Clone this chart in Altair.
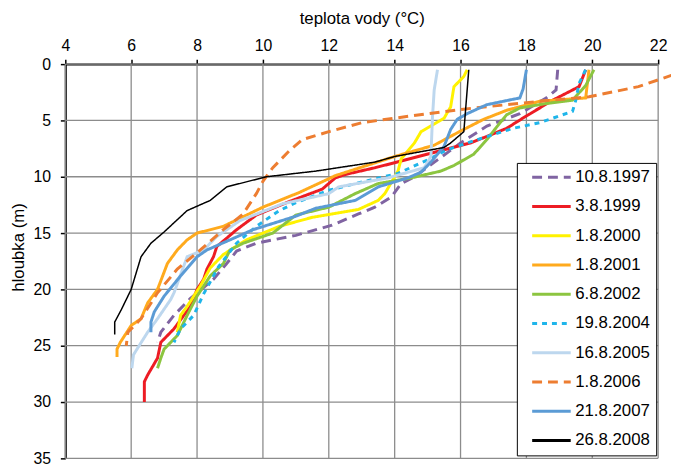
import altair as alt
import pandas as pd

series_names = ["10.8.1997", "3.8.1999", "1.8.2000", "1.8.2001", "6.8.2002",
                "19.8.2004", "16.8.2005", "1.8.2006", "21.8.2007", "26.8.2008"]
colors = ["#8064A2", "#ED1C24", "#FFF200", "#FFAA1D", "#8CC540",
          "#1FB5EA", "#BDD7EE", "#ED7D31", "#5B9BD5", "#000000"]
dashes = [[10, 6], [1, 0], [1, 0], [1, 0], [1, 0],
          [5, 5], [1, 0], [10, 6], [1, 0], [1, 0]]

x_ticks = [4, 6, 8, 10, 12, 14, 16, 18, 20, 22]
y_ticks = [0, 5, 10, 15, 20, 25, 30, 35]

depth_1997 = [0.5, 2.3, 3.0, 4.4, 5.5, 7.0, 8.5, 10.0, 10.6, 11.8, 12.7, 13.3, 14.3, 15.2, 15.9, 16.6, 17.7, 19.1, 20.8, 22.3, 23.8, 24.7]
temp_1997 = [18.95, 18.9, 18.6, 17.8, 16.8, 16.0, 15.3, 14.6, 14.2, 13.9, 13.4, 12.9, 12.1, 11.0, 9.8, 9.2, 8.9, 8.5, 7.8, 7.3, 6.9, 6.8]

depth_1999 = [0.5, 2.0, 3.2, 4.6, 5.7, 6.3, 7.0, 7.6, 8.6, 9.2, 9.8, 10.1, 11.1, 12.2, 13.4, 14.7, 16.2, 17.1, 18.2, 19.1, 20.0, 21.5, 23.5, 24.7, 26.1, 27.6, 28.2, 30.0]
temp_1999 = [19.8, 19.6, 18.8, 18.0, 17.4, 16.9, 16.3, 15.5, 14.2, 13.4, 12.5, 12.2, 11.8, 10.8, 9.8, 9.2, 8.6, 8.5, 8.3, 8.2, 8.0, 7.8, 7.3, 6.9, 6.8, 6.5, 6.4, 6.4]

depth_2000 = [0.5, 1.1, 2.0, 3.8, 4.8, 6.0, 7.0, 8.4, 9.5, 10.5, 11.5, 12.1, 12.9, 13.6, 14.4, 15.6, 16.9, 18.1, 19.7, 21.5, 22.3, 23.8]
temp_2000 = [16.2, 16.1, 15.8, 15.7, 15.5, 14.8, 14.6, 14.2, 14.1, 13.9, 13.7, 13.5, 12.9, 11.5, 10.5, 9.5, 8.8, 8.4, 8.1, 7.7, 7.5, 7.4]

depth_2001 = [0.5, 3.0, 3.3, 4.1, 4.9, 6.1, 7.2, 8.2, 9.9, 11.4, 12.7, 14.4, 15.0, 15.6, 16.5, 17.7, 20.0, 21.2, 22.6, 23.2, 24.7, 25.3, 26.0]
temp_2001 = [19.9, 19.8, 18.4, 17.4, 16.7, 15.9, 15.2, 14.0, 12.2, 11.1, 10.0, 8.8, 8.0, 7.7, 7.4, 7.1, 6.8, 6.5, 6.3, 6.0, 5.67, 5.57, 5.57]

depth_2002 = [0.5, 1.9, 3.2, 3.5, 3.9, 4.5, 5.2, 6.7, 8.0, 9.0, 9.5, 10.1, 10.6, 11.5, 12.7, 13.4, 15.0, 15.9, 16.5, 17.7, 18.8, 20.6, 22.3, 24.1, 25.3, 26.1, 27.0]
temp_2002 = [20.05, 19.8, 19.4, 18.6, 17.8, 17.4, 17.2, 16.8, 16.4, 15.8, 15.4, 14.5, 13.5, 12.8, 12.0, 11.0, 10.3, 9.4, 9.0, 8.8, 8.4, 8.0, 7.7, 7.4, 7.0, 6.9, 6.8]

depth_2004 = [0.5, 1.7, 3.2, 4.2, 5.2, 5.7, 6.8, 7.6, 8.5, 9.7, 10.4, 11.2, 12.3, 13.0, 14.4, 15.9, 18.0, 20.4, 22.3, 23.5, 24.7]
temp_2004 = [19.8, 19.6, 19.5, 19.4, 18.4, 17.6, 16.4, 15.6, 15.0, 14.1, 13.1, 12.0, 11.0, 10.5, 9.8, 9.2, 8.65, 8.2, 7.9, 7.5, 7.3]

depth_2005 = [0.5, 2.3, 4.6, 8.2, 9.2, 10.1, 10.9, 11.5, 12.4, 13.9, 14.7, 15.3, 16.5, 17.1, 20.3, 20.9, 22.6, 23.8, 25.8, 27.0]
temp_2005 = [15.3, 15.2, 15.15, 15.1, 14.9, 13.8, 12.3, 12.0, 10.6, 9.3, 8.9, 8.6, 8.2, 7.7, 7.3, 7.2, 6.8, 6.5, 6.07, 6.02]

depth_2006 = [0.5, 1.0, 2.0, 2.9, 3.3, 3.9, 4.4, 4.8, 5.2, 6.0, 6.7, 7.7, 9.2, 10.4, 11.5, 13.3, 14.7, 16.5, 18.2, 20.3, 22.6, 23.8, 25.0]
temp_2006 = [22.9, 22.4, 21.4, 19.9, 18.4, 16.4, 15.0, 14.0, 13.0, 12.0, 11.2, 10.8, 10.3, 10.0, 9.8, 9.4, 8.8, 8.1, 7.4, 6.8, 6.3, 5.9, 5.85]

depth_2007 = [0.5, 2.2, 3.0, 3.6, 4.4, 4.9, 5.8, 7.3, 8.7, 9.6, 10.1, 10.9, 12.1, 12.8, 13.5, 14.7, 15.6, 16.5, 17.1, 18.8, 20.6, 22.0, 22.9, 23.8]
temp_2007 = [18.0, 17.9, 17.8, 16.8, 16.2, 15.9, 15.7, 15.5, 15.1, 14.8, 14.4, 13.5, 12.8, 11.6, 11.0, 9.7, 9.0, 8.3, 8.0, 7.5, 7.0, 6.7, 6.6, 6.6]

depth_2008 = [0.5, 6.0, 7.0, 7.4, 8.2, 8.7, 9.5, 10.0, 10.9, 12.1, 13.0, 14.9, 15.9, 17.1, 20.0, 21.8, 22.9, 24.0]
temp_2008 = [16.25, 16.1, 15.7, 15.5, 14.0, 13.4, 11.6, 10.1, 8.9, 8.4, 7.7, 7.0, 6.6, 6.3, 6.0, 5.7, 5.5, 5.5]

profiles = [
    (depth_1997, temp_1997), (depth_1999, temp_1999), (depth_2000, temp_2000),
    (depth_2001, temp_2001), (depth_2002, temp_2002), (depth_2004, temp_2004),
    (depth_2005, temp_2005), (depth_2006, temp_2006), (depth_2007, temp_2007),
    (depth_2008, temp_2008),
]

rows = []
for name, (dep, tmp) in zip(series_names, profiles):
    for i, (d, t) in enumerate(zip(dep, tmp)):
        rows.append({"series": name, "depth": d, "temp": t, "i": i})
df = pd.DataFrame(rows)

FONT = "Liberation Sans"
GRID = "#8c8c8c"

x_scale = alt.Scale(domain=[4, 22], nice=False, zero=False)
y_scale = alt.Scale(domain=[0, 35], reverse=True, nice=False, zero=False)

x_axis = alt.Axis(
    orient="top", values=x_ticks, title="teplota vody (°C)",
    grid=False,
    labelFlush=False, labelOverlap=False,
    tickSize=5, labelPadding=9, labelBaseline="alphabetic",
    titleY=-41, titleBaseline="alphabetic",
)
y_axis = alt.Axis(
    values=y_ticks, title="hloubka (m)",
    grid=False,
    labelFlush=False, labelOverlap=False,
    tickSize=5, labelPadding=10,
    titleX=-47, titleY=185, titleBaseline="middle", titleAlign="center",
)

legend_kw = dict(
    title=None,
    orient="none",
    legendX=457,
    legendY=100,
    strokeColor="#000000",
    fillColor="#ffffff",
    padding=6,
    symbolOffset=8,
    symbolType="stroke",
    symbolSize=1521,
    symbolStrokeWidth=3,
    clipHeight=17,
    labelFont=FONT,
    labelFontSize=17,
    labelColor="#000000",
    labelOffset=3,
    labelExpr="datum.label + '\u00a0\u00a0\u00a0\u00a0'",
    rowPadding=11.6,
)

grid_x = alt.Chart(pd.DataFrame({"gx": x_ticks})).mark_rule(
    color=GRID, strokeWidth=1.3
).encode(x=alt.X("gx:Q", scale=x_scale, axis=x_axis))

grid_y = alt.Chart(pd.DataFrame({"gy": y_ticks})).mark_rule(
    color=GRID, strokeWidth=1.3
).encode(y=alt.Y("gy:Q", scale=y_scale, axis=y_axis))

lines = alt.Chart(df).mark_line(clip=False).encode(
    x=alt.X("temp:Q", scale=x_scale, axis=x_axis),
    y=alt.Y("depth:Q", scale=y_scale, axis=y_axis),
    color=alt.Color("series:N", scale=alt.Scale(domain=series_names, range=colors),
                    legend=alt.Legend(**legend_kw)),
    strokeDash=alt.StrokeDash("series:N", scale=alt.Scale(domain=series_names, range=dashes),
                              legend=alt.Legend(**legend_kw)),
    strokeWidth=alt.condition(alt.datum.series == "26.8.2008", alt.value(1.5), alt.value(3)),
    order=alt.Order("i:Q"),
)

chart = alt.layer(grid_x, grid_y, lines).properties(
    width=600,
    height=399,
    padding={"left": 58, "top": 54, "right": 13, "bottom": 10},
    autosize=alt.AutoSizeParams(type="none"),
).configure_axis(
    domainColor="#000000",
    domainWidth=2,
    tickColor="#000000",
    tickWidth=1.5,
    labelFont=FONT,
    labelFontSize=16,
    labelColor="#000000",
    titleFont=FONT,
    titleFontSize=17,
    titleFontWeight="normal",
    titleColor="#000000",
).configure_view(
    stroke=None,
)

chart.save("out.html", embed_options={"renderer": "svg", "actions": False})
